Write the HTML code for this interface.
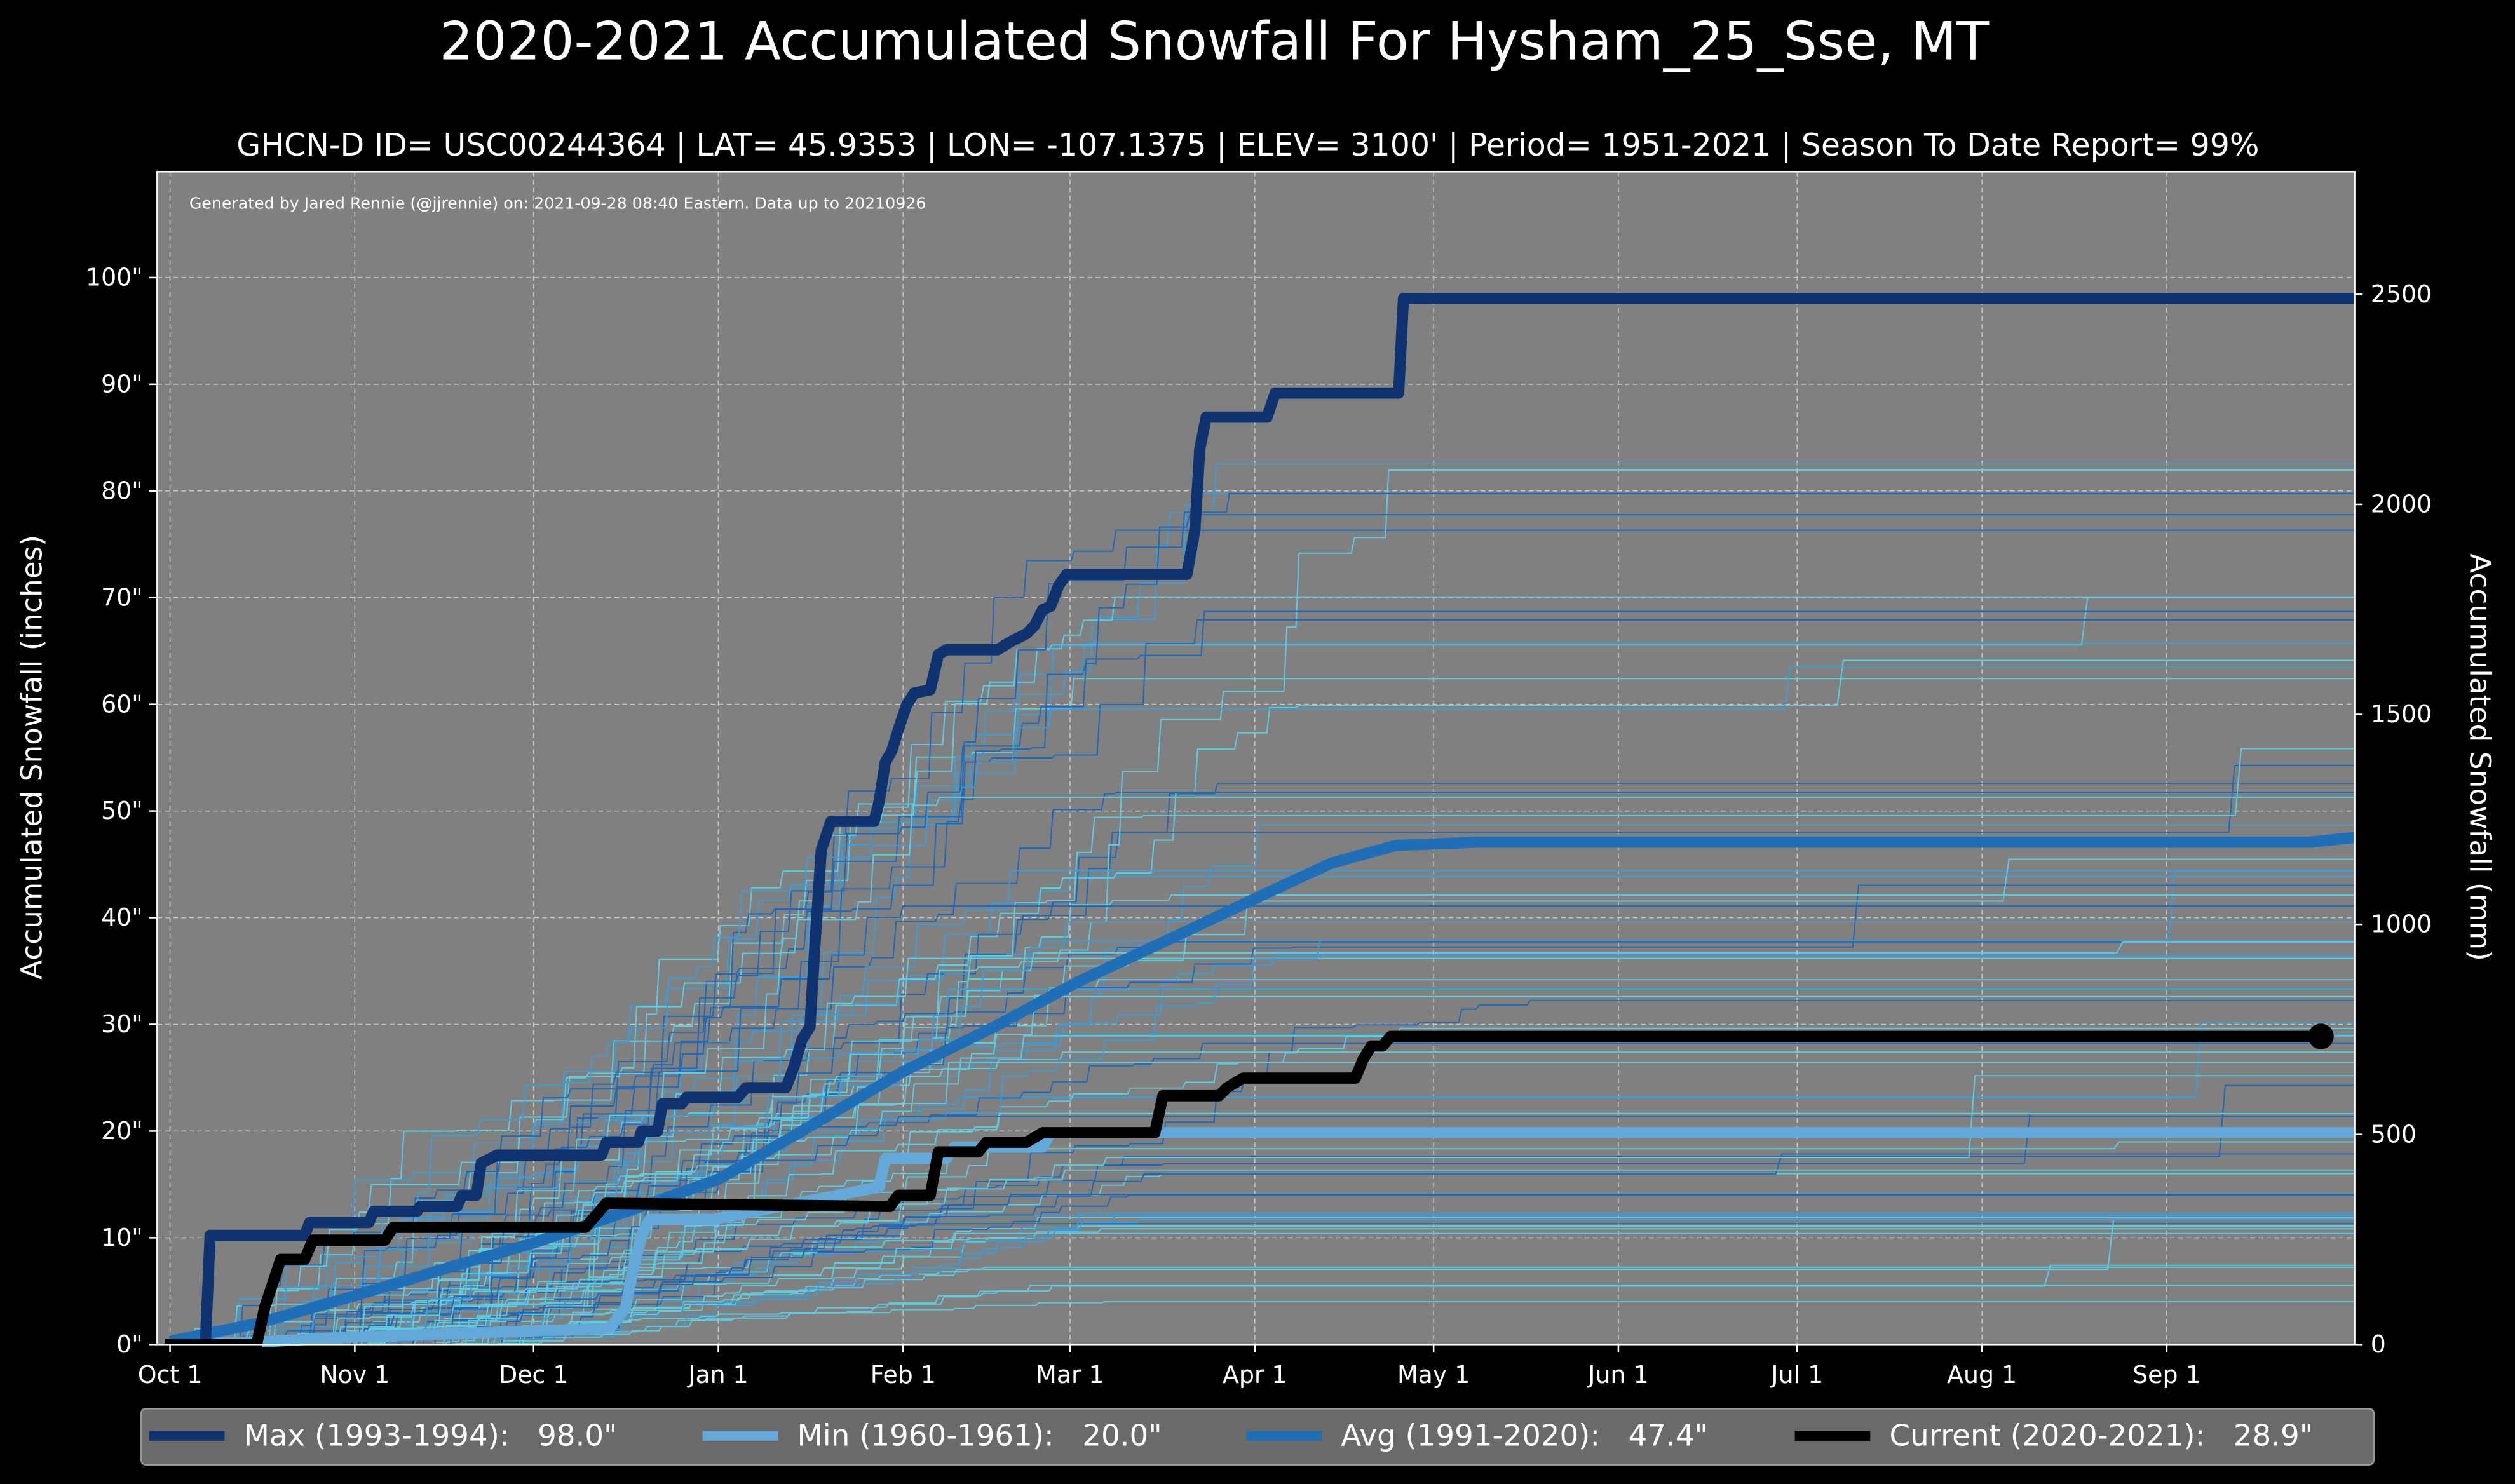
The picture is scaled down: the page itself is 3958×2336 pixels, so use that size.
<!DOCTYPE html>
<html><head><meta charset="utf-8"><style>
html,body{margin:0;padding:0;background:#000;}
svg{display:block;font-family:"DejaVu Sans","Liberation Sans",sans-serif;}
</style></head><body>
<svg id="s" width="3958" height="2336" viewBox="0 0 1568 925" preserveAspectRatio="none" xmlns="http://www.w3.org/2000/svg">
<rect width="1568" height="925" fill="#000"/>
<text x="757" y="37" fill="#fff" font-size="33" text-anchor="middle">2020-2021 Accumulated Snowfall For Hysham_25_Sse, MT</text>
<text x="778" y="97" fill="#fff" font-size="19.4" text-anchor="middle">GHCN-D ID= USC00244364 | LAT= 45.9353 | LON= -107.1375 | ELEV= 3100' | Period= 1951-2021 | Season To Date Report= 99%</text>
<rect x="98" y="107" width="1370" height="731" fill="#808080"/>
<g id="grid" stroke="#c8c8c8" stroke-width="0.6" stroke-dasharray="3,2"></g>
<text x="118" y="130" fill="#fff" font-size="10">Generated by Jared Rennie (@jjrennie) on: 2021-09-28 08:40 Eastern. Data up to 20210926</text>
<g id="bg" fill="none"></g>
<g fill="none" stroke-linejoin="round">
<polyline stroke="#62a8d8" stroke-width="7" points="106,838 170,836 230,833 320,830 380,828 390,815 395,790 400,770 405,760 445,760 548,740 552,722 590,722 595,715 650,715 655,706 1468,706"/>
<polyline stroke="#1f6fb8" stroke-width="7" points="106,836 160,825 220,808 280,790 332,775 400,752 448,735 500,705 563,668 620,640 672,612 730,585 787,558 830,538 870,527 920,525 1440,525 1468,522"/>
<polyline stroke="#0f3270" stroke-width="7" points="106,838 128,838 131,770 190,770 193,762 230,762 233,755 260,755 262,752 285,752 288,745 297,745 300,725 310,720 375,720 378,712 398,712 400,705 410,705 413,688 425,688 428,684 460,684 465,678 490,678 495,665 500,648 505,640 508,590 512,530 518,512 545,512 548,500 552,475 556,468 560,455 565,440 570,432 580,430 585,408 590,405 622,405 630,400 640,395 645,390 650,380 655,378 660,365 665,358 740,358 745,330 748,280 752,260 790,260 795,245 872,245 875,186 1468,186"/>
<polyline stroke="#000" stroke-width="7" points="103,838 160,838 165,815 170,800 175,785 190,785 195,773 240,773 245,765 365,765 372,757 378,750 555,752 560,745 580,745 585,718 610,718 615,712 640,712 650,706 720,706 725,683 760,683 765,678 775,672 845,672 850,660 855,652 862,652 867,646 1447,646"/>
<circle cx="1447" cy="646" r="8" fill="#000"/>
</g>
<rect x="98" y="107" width="1370" height="731" fill="none" stroke="#fff" stroke-width="1"/>
<g id="ticks" fill="#fff" font-size="15"></g>
<text transform="translate(26,472) rotate(-90)" fill="#fff" font-size="18" text-anchor="middle">Accumulated Snowfall (inches)</text>
<text transform="translate(1540,472) rotate(90)" fill="#fff" font-size="18" text-anchor="middle">Accumulated Snowfall (mm)</text>
<rect x="88" y="878" width="1392" height="35" rx="3" fill="#6a6a6a" stroke="#999" stroke-width="1"/>
<g font-size="18.5" fill="#fff">
<line x1="93" y1="895" x2="140" y2="895" stroke="#0f3270" stroke-width="6"/><text x="152" y="901">Max (1993-1994):&#160;&#160;&#160;98.0"</text>
<line x1="438" y1="895" x2="485" y2="895" stroke="#62a8d8" stroke-width="6"/><text x="497" y="901">Min (1960-1961):&#160;&#160;&#160;20.0"</text>
<line x1="777" y1="895" x2="824" y2="895" stroke="#1f6fb8" stroke-width="6"/><text x="836" y="901">Avg (1991-2020):&#160;&#160;&#160;47.4"</text>
<line x1="1119" y1="895" x2="1166" y2="895" stroke="#000" stroke-width="6"/><text x="1178" y="901">Current (2020-2021):&#160;&#160;&#160;28.9"</text>
</g>
</svg>
<script>
var NS="http://www.w3.org/2000/svg";
function el(p,t,a,txt){var e=document.createElementNS(NS,t);for(var k in a)e.setAttribute(k,a[k]);if(txt!=null)e.textContent=txt;p.appendChild(e);return e;}
var g=document.getElementById('grid'),tk=document.getElementById('ticks');
function fx(d){return 106+d*3.716;} function fy(i){return 838-i*6.65;}
var months=[["Oct 1",0],["Nov 1",31],["Dec 1",61],["Jan 1",92],["Feb 1",123],["Mar 1",151],["Apr 1",182],["May 1",212],["Jun 1",243],["Jul 1",273],["Aug 1",304],["Sep 1",335]];
months.forEach(function(m){var x=fx(m[1]);el(g,'line',{x1:x,x2:x,y1:107,y2:838});el(tk,'line',{x1:x,x2:x,y1:838,y2:843,stroke:'#fff'});el(tk,'text',{x:x,y:862,'text-anchor':'middle'},m[0]);});
for(var i=0;i<=100;i+=10){var y=fy(i);el(g,'line',{x1:98,x2:1468,y1:y,y2:y});el(tk,'line',{x1:93,x2:98,y1:y,y2:y,stroke:'#fff'});el(tk,'text',{x:89,y:y+5,'text-anchor':'end'},i+'"');}
for(var m=0;m<=2500;m+=500){var y=838-m/25.4*6.65;el(tk,'line',{x1:1468,x2:1473,y1:y,y2:y,stroke:'#fff'});el(tk,'text',{x:1478,y:y+5},m);}
var seed=11;function r(){seed=(seed*16807)%2147483647;return seed/2147483647;}
var bg=document.getElementById('bg');
for(var n=0;n<70;n++){
 var fin=4+Math.pow(r(),1.1)*84;
 var t=r();var col=t<0.45?'#5ecbe0':(t<0.7?'#3d9bd6':'#1f68b8');
 var end=120+r()*110; var start=r()*50;
 var pts=[[106,838]];var d=start,v=0;pts.push([fx(d),fy(0)]);
 while(d<end&&v<fin){var step=2+r()*9;d+=step;pts.push([fx(d),fy(v)]);v=Math.min(fin,v+r()*fin*0.09);pts.push([fx(d+0.5),fy(v)]);}
 if(r()<0.25){var d2=260+r()*100;pts.push([fx(d2),fy(v)]);v+=r()*8;pts.push([fx(d2+1),fy(v)]);}
 pts.push([1468,fy(v)]);
 el(bg,'polyline',{points:pts.map(function(p){return p[0].toFixed(1)+','+p[1].toFixed(1);}).join(' '),stroke:col,'stroke-width':0.8});
}
</script>
</body></html>
